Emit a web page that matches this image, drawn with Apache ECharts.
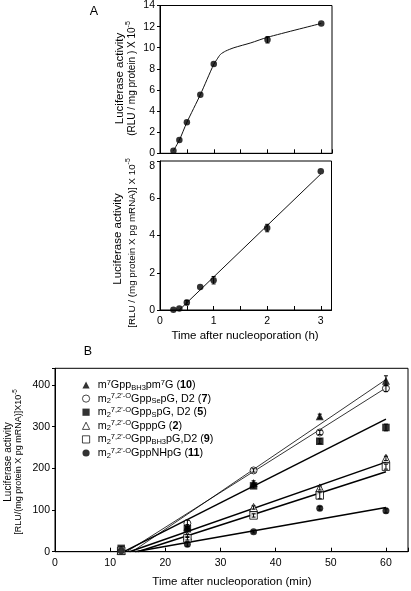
<!DOCTYPE html>
<html><head><meta charset="utf-8">
<script src="https://cdn.jsdelivr.net/npm/echarts@6/dist/echarts.min.js"></script>
<style>html,body{margin:0;padding:0;background:#fff}#c{width:411px;height:591px}</style>
</head><body><div id="c"></div>
<script>
// ---------- Panel A, top: RLU / mg protein (x 10^-5) ----------
const timeH = [0.25, 0.36, 0.5, 0.75, 1, 2, 3];
const actProtein = [0.25, 1.25, 2.95, 5.55, 8.45, 10.75, 12.3];
const actProteinErr = [0, 0, 0, 0, 0, 0.3, 0];
const fitProteinX = [0.25, 0.36, 0.5, 0.75, 1.0, 1.06, 1.125, 1.22, 1.375, 1.69, 2.0, 3.0];
const fitProteinY = [0.25, 1.25, 2.93, 5.55, 8.43, 8.9, 9.37, 9.68, 10.0, 10.46, 10.99, 12.3];
// ---------- Panel A, bottom: RLU / (mg protein x pg mRNA) (x 10^-5) ----------
const actMRNA = [0.02, 0.08, 0.4, 1.23, 1.6, 4.4, 7.45];
const actMRNAErr = [0, 0, 0.12, 0, 0.2, 0.2, 0];
const fitMRNAX = [0.36, 3];
const fitMRNAY = [0, 7.3];
// ---------- Panel B ----------
const timeMin = [12, 24, 36, 48, 60];
const seriesNames = ['10', '7', '5', '2', '9', '11'];
const b10 = [4, 60, 165, 325, 410];
const b7 = [3, 68, 195, 286, 392];
const b5 = [8, 55, 158, 265, 298];
const b2 = [3, 38, 106, 153, 224];
const b9 = [2, 32, 87, 135, 204];
const b11 = [2, 18, 48, 104, 98];
const e10 = [0, 5, 5, 5, 12];
const e7 = [0, 8, 4, 5, 8];
const e5 = [0, 5, 5, 6, 8];
const e2 = [0, 4, 4, 5, 5];
const e9 = [0, 4, 4, 8, 6];
const e11 = [0, 5, 3, 4, 5];
const fitStartMin = [14, 13, 12.5, 13.5, 15, 14.5];
const fitEndMin = [60, 60, 60, 60, 60, 60];
const fitEndValue = [413, 393, 318, 215, 192, 106];
// ---------- Axis ranges / ticks ----------
const aTopY = [0, 14, 2];
const aBotY = [0, 8, 2];
const aX = [0, 3.2, 0.5];
const bX = [0, 64, 10];
const bY = [0, 440, 100];
const panelLabels = ['A', 'B'];

const FONT = '"Liberation Sans", Arial, Helvetica, sans-serif';
const bValues = [b10, b7, b5, b2, b9, b11];
const bErrs = [e10, e7, e5, e2, e9, e11];
const bSym = ['triangle', 'circle', 'rect', 'triangle', 'rect', 'circle'];
const bFilled = [true, false, true, false, false, true];
const bSize = [8, 7, 7.5, 8, 7.5, 7];
const bLineW = [0.8, 0.8, 1.5, 1.5, 1.5, 1.5];

const legendRich = {
  '10': "{f|m}{sup|7}{n|Gpp}{sub|BH3}{n|pm}{sup|7}{n|G (}{b|10}{n|)}",
  '7': "{f|m}{sub|2}{sup|7,2'-O}{n|Gpp}{sub|Se}{n|pG, D2 (}{b|7}{n|)}",
  '5': "{f|m}{sub|2}{sup|7,2'-O}{n|Gpp}{sub|S}{n|pG, D2 (}{b|5}{n|)}",
  '2': "{f|m}{sub|2}{sup|7,2'-O}{n|GpppG (}{b|2}{n|)}",
  '9': "{f|m}{sub|2}{sup|7,2'-O}{n|Gpp}{sub|BH3}{n|pG,D2 (}{b|9}{n|)}",
  '11': "{f|m}{sub|2}{sup|7,2'-O}{n|GppNHpG (}{b|11}{n|)}"
};

function zip(xs, ys) { return xs.map((x, i) => [x, ys[i]]); }

function errSeries(xi, yi, xs, ys, es, cap) {
  const data = [];
  xs.forEach((x, i) => { if (es[i] > 0) data.push([x, ys[i] - es[i], ys[i] + es[i]]); });
  return {
    type: 'custom', xAxisIndex: xi, yAxisIndex: yi, z: 5, silent: true,
    encode: { x: 0, y: [1, 2] },
    renderItem(params, api) {
      const x = api.value(0);
      const lo = api.coord([x, api.value(1)]);
      const hi = api.coord([x, api.value(2)]);
      const st = { stroke: '#000', lineWidth: 1 };
      return { type: 'group', children: [
        { type: 'line', shape: { x1: lo[0], y1: lo[1], x2: hi[0], y2: hi[1] }, style: st },
        { type: 'line', shape: { x1: lo[0] - cap, y1: lo[1], x2: lo[0] + cap, y2: lo[1] }, style: st },
        { type: 'line', shape: { x1: hi[0] - cap, y1: hi[1], x2: hi[0] + cap, y2: hi[1] }, style: st }
      ]};
    },
    data
  };
}

const axisLineStyle = { show: true, lineStyle: { color: '#000', width: 1 } };
function xAx(gi, r, labels, fmt) {
  return {
    type: 'value', gridIndex: gi, min: r[0], max: r[1], interval: r[2],
    axisLine: axisLineStyle, splitLine: { show: false },
    axisTick: { show: true, inside: true, length: 4, lineStyle: { color: '#000' } },
    axisLabel: { show: labels, color: '#000', fontSize: 10.5, fontFamily: FONT, margin: 6,
      formatter: fmt, showMaxLabel: true, hideOverlap: false }
  };
}
function yAx(gi, r, fmt, rich) {
  return {
    type: 'value', gridIndex: gi, min: r[0], max: r[1], interval: r[2],
    axisLine: axisLineStyle, splitLine: { show: false },
    axisTick: { show: true, inside: false, length: 3, lineStyle: { color: '#000' } },
    axisLabel: { color: '#000', fontSize: 10.5, fontFamily: FONT, margin: 5, formatter: fmt, rich: rich }
  };
}

const series = [];
// Panel A top
series.push({ type: 'line', xAxisIndex: 0, yAxisIndex: 0, data: zip(fitProteinX, fitProteinY),
  smooth: 0.25, showSymbol: false, silent: true, z: 2, lineStyle: { color: '#111', width: 1 } });
series.push({ type: 'scatter', xAxisIndex: 0, yAxisIndex: 0, data: zip(timeH, actProtein),
  symbol: 'circle', symbolSize: 6.5, itemStyle: { color: '#000' }, z: 4 });
series.push(errSeries(0, 0, timeH, actProtein, actProteinErr, 2));
// Panel A bottom
series.push({ type: 'line', xAxisIndex: 1, yAxisIndex: 1, data: zip(fitMRNAX, fitMRNAY),
  showSymbol: false, silent: true, z: 2, lineStyle: { color: '#111', width: 1 } });
series.push({ type: 'scatter', xAxisIndex: 1, yAxisIndex: 1, data: zip(timeH, actMRNA),
  symbol: 'circle', symbolSize: 6.5, itemStyle: { color: '#000' }, z: 4 });
series.push(errSeries(1, 1, timeH, actMRNA, actMRNAErr, 2));
// Panel B
seriesNames.forEach((nm, i) => {
  series.push({ type: 'line', xAxisIndex: 2, yAxisIndex: 2, silent: true, showSymbol: false, z: 2,
    data: [[fitStartMin[i], 0], [fitEndMin[i], fitEndValue[i]]],
    lineStyle: { color: '#000', width: bLineW[i] } });
});
seriesNames.forEach((nm, i) => {
  series.push(errSeries(2, 2, timeMin, bValues[i], bErrs[i], 2));
});
seriesNames.forEach((nm, i) => {
  series.push({ type: 'scatter', name: nm, xAxisIndex: 2, yAxisIndex: 2, z: 4 + i * 0.01,
    data: zip(timeMin, bValues[i]), symbol: bSym[i], symbolSize: bSize[i],
    itemStyle: bFilled[i] ? { color: '#000', borderColor: '#000', borderWidth: 0 }
                          : { color: '#fff', borderColor: '#000', borderWidth: 1 } });
});

function vtext(x, y, text, rich) {
  return { type: 'text', x: x, y: y, rotation: Math.PI / 2, silent: true,
    style: { text: text, rich: rich, align: 'center', verticalAlign: 'middle', fill: '#000', fontFamily: FONT } };
}
function supRich(size) {
  return {
    t: { fontSize: size, fontFamily: FONT, fill: '#000', color: '#000', lineHeight: size + 4, verticalAlign: 'middle' },
    s: { fontSize: size * 0.7, fontFamily: FONT, fill: '#000', color: '#000', lineHeight: size * 0.7, verticalAlign: 'top' }
  };
}
function htext(x, y, text, size) {
  return { type: 'text', x: x, y: y, silent: true,
    style: { text: text, fontSize: size, fontFamily: FONT, fill: '#000', align: 'center', verticalAlign: 'middle' } };
}

const option = {
  animation: false,
  backgroundColor: '#fff',
  textStyle: { fontFamily: FONT },
  grid: [
    { left: 160, top: 4, width: 172, height: 149.3, show: true, borderColor: '#000', borderWidth: 1, containLabel: false },
    { left: 160, top: 161, width: 171.5, height: 149, show: true, borderColor: '#000', borderWidth: 1, containLabel: false },
    { left: 55, top: 368.3, width: 354.3, height: 183.4, show: true, borderColor: '#000', borderWidth: 1, containLabel: false }
  ],
  xAxis: [
    xAx(0, aX, false),
    xAx(1, aX, true, v => (Math.abs(v - Math.round(v)) < 1e-9 ? String(Math.round(v)) : '')),
    xAx(2, bX, true, v => (v % 10 === 0 ? String(v) : ''))
  ],
  yAxis: [
    yAx(0, aTopY),
    yAx(1, aBotY, v => (v === aBotY[1] ? '{d|' + v + '}' : String(v)), { d: { fontSize: 10.5, color: '#000', padding: [11, 0, 0, 0] } }),
    yAx(2, bY, v => (v % 100 === 0 ? String(v) : ''))
  ],
  legend: {
    data: seriesNames.map((n, i) => ({
      name: n, icon: bSym[i],
      itemStyle: bFilled[i] ? { color: '#000', borderColor: '#000', borderWidth: 0 }
                            : { color: '#fff', borderColor: '#000', borderWidth: 0.9 }
    })),
    orient: 'vertical', left: 82, top: 378.5, padding: 0,
    itemWidth: 7.2, itemHeight: 7.2, itemGap: 0.6, selectedMode: false,
    itemStyle: { borderWidth: 0.9 },
    lineStyle: { width: 0.9 },
    formatter: n => legendRich[n],
    textStyle: {
      color: '#000', fontFamily: FONT, fontSize: 10.8,
      rich: {
        f: { fontSize: 10.8, fontFamily: FONT, color: '#000', lineHeight: 13, verticalAlign: 'middle', padding: [0, 0, 0, 3] },
        n: { fontSize: 10.8, fontFamily: FONT, color: '#000', lineHeight: 13, verticalAlign: 'middle' },
        b: { fontSize: 10.8, fontFamily: FONT, color: '#000', fontWeight: 'bold', lineHeight: 13, verticalAlign: 'middle' },
        sup: { fontSize: 7.5, fontFamily: FONT, color: '#000', lineHeight: 7.5, verticalAlign: 'top' },
        sub: { fontSize: 7.5, fontFamily: FONT, color: '#000', lineHeight: 7.5, verticalAlign: 'bottom' }
      }
    }
  },
  graphic: [
    vtext(120, 78.5, '{t|Luciferase activity}', supRich(11.5)),
    vtext(132, 78.5, '{t|(RLU / mg protein ) X 10}{s|-5}', supRich(10)),
    vtext(118, 239, '{t|Luciferase activity}', supRich(11.5)),
    vtext(132, 243, '{t|[RLU / (mg protein X pg mRNA)] X 10}{s|-5}', supRich(9.8)),
    vtext(8, 462, '{t|Luciferase activity}', supRich(10)),
    vtext(19, 462, '{t|[RLU/(mg protein X pg mRNA)]X10}{s|-5}', supRich(9)),
    htext(245, 336, 'Time after nucleoporation (h)', 11.5),
    htext(232, 582, 'Time after nucleoporation (min)', 11.5),
    htext(94, 12, panelLabels[0], 12.5),
    htext(88, 352, panelLabels[1], 12.5)
  ],
  series: series
};

const chart = echarts.init(document.getElementById('c'), null, { renderer: 'canvas' });
chart.setOption(option);
</script>
</body></html>
